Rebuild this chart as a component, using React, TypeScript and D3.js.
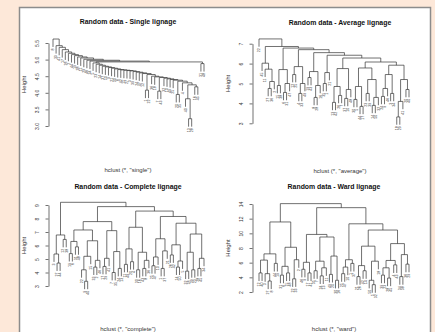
import React, { useEffect, useRef } from "react";
import * as d3 from "d3";

// a tree is a leaf label, or [left, right, merge height]
type Tree = number | [Tree, Tree, number];

// single linkage: a staircase, each step = [branch, height where it joins the rest]
const singleTopSteps: [Tree, number][] = [
  [8, 5.62], [33, 5.42], [41, 5.37], [17, 5.3], [26, 5.23], [2, 5.19], [44, 5.15],
  [19, 5.12], [38, 5.08], [11, 5.05], [29, 5.01], [46, 4.98], [34, 4.955],
];
const singleLowSteps: [Tree, number][] = [
  [5, 4.9], [23, 4.86], [14, 4.83], [37, 4.8], [50, 4.78], [9, 4.76], [21, 4.74],
  [30, 4.72], [6, 4.7], [42, 4.69], [15, 4.68], [27, 4.67], [3, 4.66], [39, 4.64],
  [24, 4.62], [47, 4.6], [12, 4.58], [[1, 22, 4.08], 4.55], [36, 4.5], [18, 4.48],
  [[7, 43, 4.05], 4.46], [32, 4.44], [10, 4.42], [49, 4.4], [25, 4.38],
  [[20, 35, 3.95], 4.35], [4, 4.3], [[40, [13, 28, 3.22], 3.82], 4.24],
];
const singleLowTail: Tree = [16, 45, 4.18];
const singleOutlier: Tree = [31, 48, 4.88];
const singleJoin = 4.93;

const averageTree: Tree = [
  22,
  [
    [45, [11, [[27, 36, 4.75], 2, 5.1], 5.72], 6.02],
    [
      [[15, 38, 4.9], [[6, 31, 4.55], 47, 5.0], 5.7],
      [
        [[12, 25, 5.45], [[4, 33, 4.5], 49, 5.0], 5.85],
        [
          [[19, 43, 5.3], [[8, 28, 4.3], 16, 4.9], 5.6],
          [
            [[35, 1, 5.0], 21, 5.55],
            [
              [[[13, 42, 4.05], [26, 7, 4.4], 4.85], [[37, 10, 4.25], 48, 4.7], 5.75],
              [
                [[[30, 5, 4.2], [44, 17, 3.85], 4.85], [[23, 39, 4.5], [[14, 50, 3.9], 32, 4.3], 5.2], 5.78],
                [
                  [[[24, 9, 4.35], 46, 4.75], [3, 34, 4.5], 5.45],
                  [[[18, 29, 3.32], 41, 4.1], [20, 40, 4.7], 5.2],
                  5.92,
                ],
                6.08,
              ],
              6.28,
            ],
            6.42,
          ],
          6.55,
        ],
        6.7,
      ],
      6.78,
    ],
    6.86,
  ],
  7.24,
];

const completeTree: Tree = [
  [[3, [27, 44, 4.7], 5.37], [12, 38, 6.45], 6.78],
  [
    [
      [
        [[19, 6, 5.4], [31, 48, 5.9], 6.3],
        [[[22, [9, 40, 3.35], 4.2], 15, 5.2], [[33, 2, 4.4], 46, 4.9], 6.35],
        7.15,
      ],
      [[[17, 29, 4.45], 41, 5.05], [[7, 35, 4.0], [24, 13, 4.3], 5.55], 7.1],
      7.77,
    ],
    [
      [[[11, 49, 4.6], [20, 4, 4.8], 5.75], [[30, 16, 4.2], [[43, 8, 4.3], 36, 4.9], 5.5], 7.35],
      [
        [[[25, 47, 4.5], 10, 5.15], [[1, 37, 4.3], 21, 5.6], 6.5],
        [
          [[26, 42, 5.3], [[14, 50, 4.4], 5, 4.85], 6.05],
          [[[32, 18, 4.1], [39, 23, 4.2], 5.5], [[28, 45, 4.3], 34, 5.05], 6.85],
          7.65,
        ],
        8.15,
      ],
      8.55,
    ],
    8.88,
  ],
  9.2,
];

const wardTree: Tree = [
  [
    [[[12, 40, 4.6], [3, [27, 8, 3.5], 4.5], 6.35], [44, 19, 5.9], 7.2],
    [[[31, 6, 4.3], [15, 48, 4.6], 5.5], [[22, 33, 3.8], 2, 6.4], 8.1],
    11.55,
  ],
  [
    [
      [[46, 9, 5.1], [17, 41, 4.6], 6.05],
      [
        [[35, 7, 4.9], [[24, 13, 4.2], 11, 5.3], 6.2],
        [[49, 20, 4.4], [30, 16, 3.6], 6.9],
        9.5,
      ],
      9.85,
    ],
    [
      [[[25, 47, 4.5], 10, 5.4], [1, 37, 5.9], 6.4],
      [
        [[[21, 26, 4.1], [42, 14, 4.9], 5.6], [[50, [5, 32, 3.0], 3.6], 18, 6.2], 8.25],
        [
          [[[39, 23, 4.3], [28, 45, 3.9], 5.3], [4, 43, 5.7], 6.3],
          [[34, 38, 4.1], [36, 29, 5.8], 7.1],
          8.6,
        ],
        10.45,
      ],
      11.3,
    ],
    13.5,
  ],
  14.05,
];

const singleTicks = [3, 3.5, 4, 4.5, 5, 5.5];
const averageTicks = [3, 4, 5, 6, 7];
const completeTicks = [3, 4, 5, 6, 7, 8, 9];
const wardTicks = [2, 4, 6, 8, 10, 12, 14];

const stack = (steps: [Tree, number][], tail: Tree): Tree =>
  steps.reduceRight<Tree>((acc, [b, h]) => [b, acc, h], tail);

const singleTree = stack(singleTopSteps, [
  stack(singleLowSteps, singleLowTail),
  singleOutlier,
  singleJoin,
]);

const panels = [
  {
    title: "Random data - Single lignage",
    sub: 'hclust (*, "single")',
    tree: singleTree,
    ticks: singleTicks,
    fmt: d3.format(".1f"),
    yDomain: [3, 5.5],
    yRange: [126, 43],
    xRange: [53, 204],
    axisX: 48.5,
    cx: 128,
    titleY: 24,
    subY: 172,
  },
  {
    title: "Random data - Average lignage",
    sub: 'hclust (*, "average")',
    tree: averageTree,
    ticks: averageTicks,
    fmt: d3.format("d"),
    yDomain: [3, 7],
    yRange: [123.3, 43.7],
    xRange: [259, 409],
    axisX: 252.5,
    cx: 340,
    titleY: 25,
    subY: 173,
  },
  {
    title: "Random data - Complete lignage",
    sub: 'hclust (*, "complete")',
    tree: completeTree,
    ticks: completeTicks,
    fmt: d3.format("d"),
    yDomain: [3, 9],
    yRange: [286, 205],
    xRange: [54, 204],
    axisX: 48.5,
    cx: 128,
    titleY: 188.5,
    subY: 330.5,
  },
  {
    title: "Random data - Ward lignage",
    sub: 'hclust (*, "ward")',
    tree: wardTree,
    ticks: wardTicks,
    fmt: d3.format("d"),
    yDomain: [2, 14],
    yRange: [292, 204],
    xRange: [259, 409],
    axisX: 252.5,
    cx: 334,
    titleY: 189,
    subY: 330.5,
  },
];

const font = "'Liberation Sans', Arial, Helvetica, sans-serif";

const App = () => {
  const ref = useRef<SVGSVGElement>(null);

  useEffect(() => {
    const svg = d3.select(ref.current);
    svg.selectAll("*").remove();

    svg.append("rect").attr("width", 435).attr("height", 332).attr("fill", "#fde8d9");
    svg
      .append("rect")
      .attr("x", 19.5)
      .attr("y", 7.5)
      .attr("width", 411)
      .attr("height", 340)
      .attr("fill", "#fff")
      .attr("stroke", "#8c8c8c")
      .attr("stroke-width", 1.5);

    panels.forEach((p) => {
      const g = svg.append("g");
      const y = d3.scaleLinear().domain(p.yDomain).range(p.yRange);

      const root = d3.hierarchy<Tree>(p.tree, (d) => (Array.isArray(d) ? [d[0], d[1]] : null));
      const leaves = root.leaves();
      const x = d3
        .scalePoint<number>()
        .domain(leaves.map((_, i) => i))
        .range(p.xRange as [number, number]);

      const hs = root
        .descendants()
        .filter((n) => n.children)
        .map((n) => (n.data as [Tree, Tree, number])[2]);
      const hang = 0.1 * ((d3.max(hs) as number) - (d3.min(hs) as number));

      const px = new Map<any, number>();
      leaves.forEach((l, i) => px.set(l, x(i) as number));
      root.eachAfter((n) => {
        if (n.children) px.set(n, ((px.get(n.children[0]) as number) + (px.get(n.children[1]) as number)) / 2);
      });
      const hOf = (n: d3.HierarchyNode<Tree>) =>
        n.children ? (n.data as any)[2] : (n.parent!.data as any)[2] - hang;

      // merges
      g.selectAll("path.merge")
        .data(root.descendants().filter((n) => n.children))
        .enter()
        .append("path")
        .attr("class", "merge")
        .attr("fill", "none")
        .attr("stroke", "#333")
        .attr("stroke-width", 0.7)
        .attr("d", (n) => {
          const [a, b] = n.children!;
          const h = y((n.data as any)[2]);
          return `M${px.get(a)},${y(hOf(a))}V${h}H${px.get(b)}V${y(hOf(b))}`;
        });

      // leaf labels
      g.selectAll("text.leaf")
        .data(leaves)
        .enter()
        .append("text")
        .attr("class", "leaf")
        .attr("font-family", font)
        .attr("font-size", 3.6)
        .attr("fill", "#333")
        .attr("text-anchor", "end")
        .attr("transform", (n) => `translate(${(px.get(n) as number) + 1.3},${y(hOf(n)) + 1.5}) rotate(-90)`)
        .text((n) => String(n.data));

      // y axis
      const ax = g
        .append("g")
        .attr("transform", `translate(${p.axisX},0)`)
        .call(d3.axisLeft(y).tickValues(p.ticks).tickSize(3).tickSizeOuter(0).tickFormat(p.fmt as any));
      ax.select(".domain").attr("stroke", "#333").attr("stroke-width", 0.7);
      ax.selectAll(".tick line").attr("stroke", "#333").attr("stroke-width", 0.7);
      ax.selectAll(".tick text")
        .attr("font-family", font)
        .attr("font-size", 5)
        .attr("fill", "#333")
        .attr("x", 0)
        .attr("y", -10)
        .attr("dy", 0)
        .attr("text-anchor", "middle")
        .attr("transform", "rotate(-90)");

      g.append("text")
        .attr("font-family", font)
        .attr("font-size", 6)
        .attr("fill", "#333")
        .attr("text-anchor", "middle")
        .attr("transform", `translate(${p.axisX - 23},${(p.yRange[0] + p.yRange[1]) / 2}) rotate(-90)`)
        .text("Height");

      g.append("text")
        .attr("font-family", font)
        .attr("font-size", 6.9)
        .attr("font-weight", "bold")
        .attr("fill", "#111")
        .attr("text-anchor", "middle")
        .attr("x", p.cx)
        .attr("y", p.titleY)
        .text(p.title);

      g.append("text")
        .attr("font-family", font)
        .attr("font-size", 6)
        .attr("fill", "#333")
        .attr("text-anchor", "middle")
        .attr("x", p.cx)
        .attr("y", p.subY)
        .text(p.sub);
    });
  }, []);

  return (
    <svg
      ref={ref}
      width={435}
      height={332}
      style={{ position: "absolute", left: 0, top: 0, display: "block" }}
    />
  );
};

export default App;
